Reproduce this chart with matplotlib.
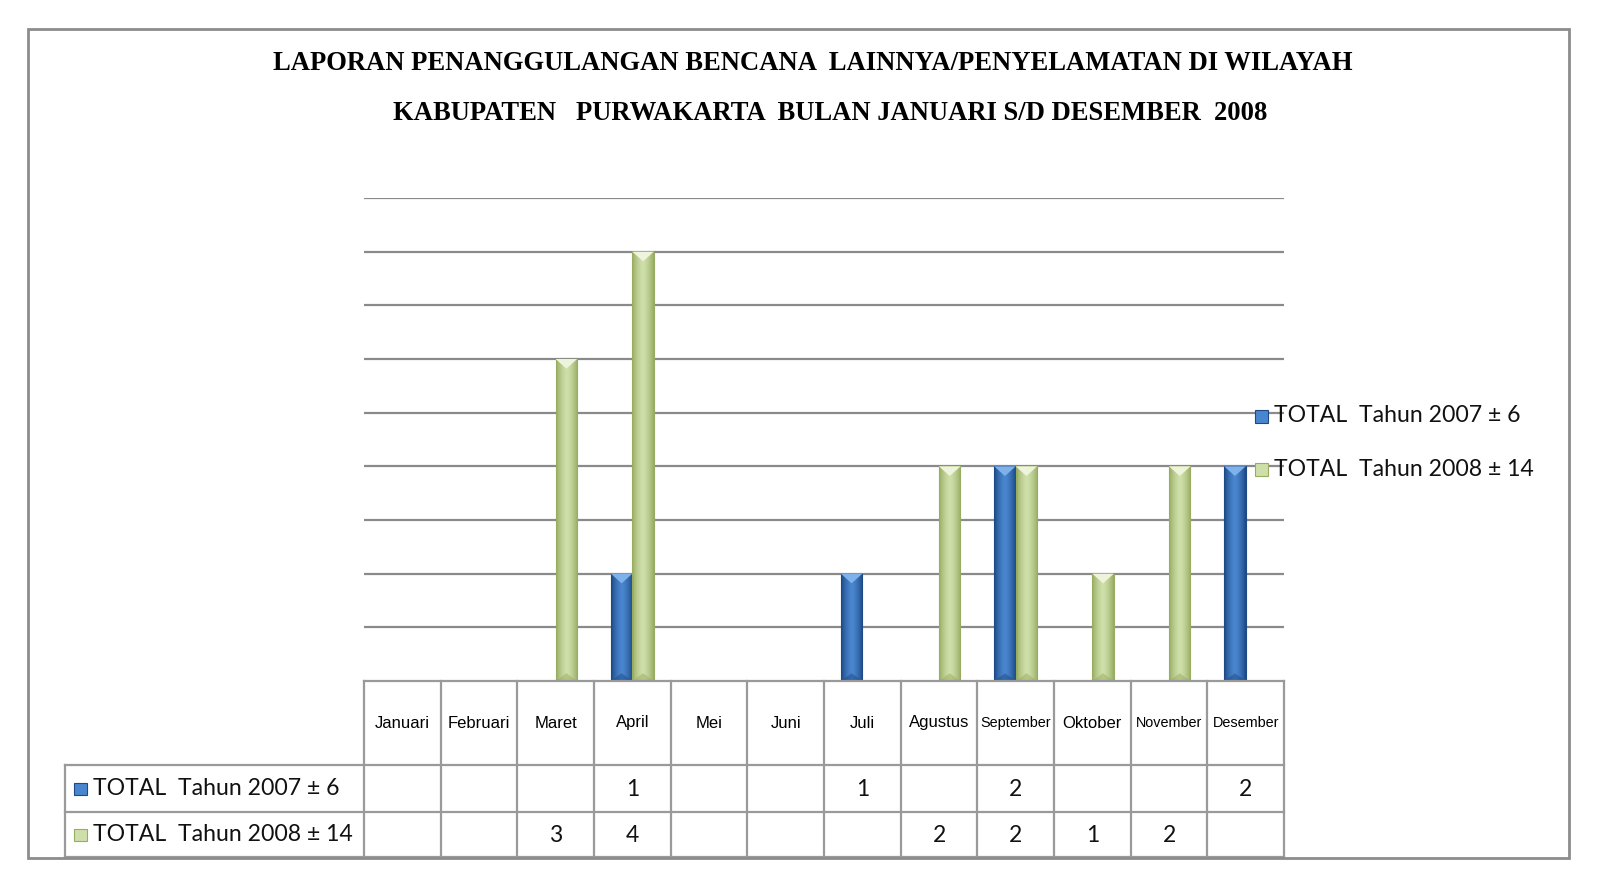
import numpy as np
import matplotlib
matplotlib.use("Agg")
import matplotlib.pyplot as plt
from matplotlib.patches import Rectangle, Polygon
from matplotlib.colors import to_rgb

# data
months = ['Januari', 'Februari', 'Maret', 'April', 'Mei', 'Juni', 'Juli',
          'Agustus', 'September', 'Oktober', 'November', 'Desember']
total_2007 = [np.nan, np.nan, np.nan, 1, np.nan, np.nan, 1, np.nan, 2, np.nan, np.nan, 2]
total_2008 = [np.nan, np.nan, 3, 4, np.nan, np.nan, np.nan, 2, 2, 1, 2, np.nan]
series_names = ['TOTAL  Tahun 2007 \u00b1 6', 'TOTAL  Tahun 2008 \u00b1 14']
title_1 = 'LAPORAN PENANGGULANGAN BENCANA  LAINNYA/PENYELAMATAN DI WILAYAH'
title_2 = 'KABUPATEN   PURWAKARTA  BULAN JANUARI S/D DESEMBER  2008'

W, H = 1600, 894
fig = plt.figure(figsize=(16, 8.94), dpi=100)


def fx(px):
    return px / W


def fy(py):
    return 1 - py / H


# styles per series: (edge, mid, top)
styles = [('#1d4a86', '#4a86cf', '#7fb2ea'),
          ('#98ad62', '#cfdfaa', '#eef4dc')]
grid_c = '#8a8a8a'
line_c = '#9a9a9a'

# outer frame
fig.patches.append(Rectangle((fx(28), fy(858)), fx(1569 - 28), (858 - 29) / H,
                             transform=fig.transFigure, fill=False,
                             edgecolor='#8c8c8c', lw=2))

fig.text(fx(813), fy(63), title_1, ha='center', va='center', family='Liberation Serif',
         weight='bold', fontsize=19.2)
fig.text(fx(830), fy(113), title_2, ha='center', va='center', family='Liberation Serif',
         weight='bold', fontsize=19.2)

# chart area
px_l, px_r, px_base, px_top = 364, 1284, 681, 198
ax = fig.add_axes([fx(px_l), fy(px_base), fx(px_r - px_l), (px_base - px_top) / H])
ax.set_xlim(0, 12)
ax.set_ylim(0, 4.5)
for s in ax.spines.values():
    s.set_visible(False)
ax.set_xticks([])
ax.set_yticks([])
for g in np.arange(0.5, 4.51, 0.5):
    ax.axhline(g, color=grid_c, lw=1.6, zorder=1)

bw = 0.28
tri_h = 0.09


def grad_bar(x0, h, edge, mid, top):
    e = np.array(to_rgb(edge))
    m = np.array(to_rgb(mid))
    t = np.abs(np.linspace(-1, 1, 40)) ** 1.5
    img = (m[None, :] * (1 - t[:, None]) + e[None, :] * t[:, None])[None, :, :]
    rect = Rectangle((x0, 0), bw, h, facecolor='none', edgecolor=edge, lw=0.8, zorder=3)
    ax.add_patch(rect)
    im = ax.imshow(img, extent=(x0, x0 + bw, 0, h), aspect='auto', zorder=2,
                   interpolation='bilinear')
    im.set_clip_path(rect)
    ax.add_patch(Polygon([(x0, h), (x0 + bw, h), (x0 + bw / 2, h - tri_h)],
                         closed=True, facecolor=top, edgecolor='none', zorder=4))
    ax.add_patch(Polygon([(x0, 0), (x0 + bw, 0), (x0 + bw / 2, tri_h * 0.8)],
                         closed=True, facecolor=edge, edgecolor='none', alpha=0.5, zorder=4))


for k, vals in enumerate([total_2007, total_2008]):
    for i, v in enumerate(vals):
        if np.isnan(v):
            continue
        x0 = i + 0.5 - bw + k * bw
        grad_bar(x0, v, *styles[k])

ax.set_xlim(0, 12)
ax.set_ylim(0, 4.5)

# legend on the right
leg_y = [416, 469]
for k, name in enumerate(series_names):
    edge, mid, top = styles[k]
    fig.patches.append(Rectangle((fx(1255), fy(leg_y[k] + 7)), fx(13), 13 / H,
                                 transform=fig.transFigure, facecolor=mid,
                                 edgecolor=edge, lw=0.8))
    fig.text(fx(1274), fy(leg_y[k]), name, ha='left', va='center', family='Lato',
             fontsize=16.6, color='#111111')

# data table
tab_l = 65
col_w = (px_r - px_l) / 12.0
rows = [681, 765, 812, 857]
tax = fig.add_axes([fx(tab_l), fy(rows[-1]), fx(px_r - tab_l), (rows[-1] - rows[0]) / H])
tax.set_xlim(-(px_l - tab_l) / col_w, 12)
tax.set_ylim(rows[-1], rows[0])
tax.axis('off')
lab_x = -(px_l - tab_l) / col_w
tab_kw = dict(color=line_c, lw=1.6, clip_on=False)
tax.plot([0, 12], [rows[0], rows[0]], **tab_kw)
for r in rows[1:]:
    tax.plot([lab_x, 12], [r, r], **tab_kw)
tax.plot([lab_x, lab_x], [rows[1], rows[3]], **tab_kw)
for c in range(13):
    tax.plot([c, c], [rows[0], rows[3]], **tab_kw)

small = {'September': 10.4, 'November': 10.4, 'Desember': 10.4}
for i, m in enumerate(months):
    tax.text(i + 0.5, (rows[0] + rows[1]) / 2, m, ha='center', va='center',
             family='Liberation Sans', fontsize=small.get(m, 12))

for k, vals in enumerate([total_2007, total_2008]):
    yc = (rows[k + 1] + rows[k + 2]) / 2
    edge, mid, top = styles[k]
    tax.add_patch(Rectangle((lab_x + 9 / col_w, yc - 6), 13 / col_w, 12,
                            facecolor=mid, edgecolor=edge, lw=0.8, clip_on=False))
    tax.text(lab_x + 28 / col_w, yc, series_names[k], ha='left', va='center',
             family='Lato', fontsize=16.6, color='#111111')
    for i, v in enumerate(vals):
        if not np.isnan(v):
            tax.text(i + 0.5, yc + 1, '%d' % v, ha='center', va='center',
                     family='Lato', fontsize=16.5, color='#111111')

fig.savefig('out.png', dpi=100, facecolor='white')
